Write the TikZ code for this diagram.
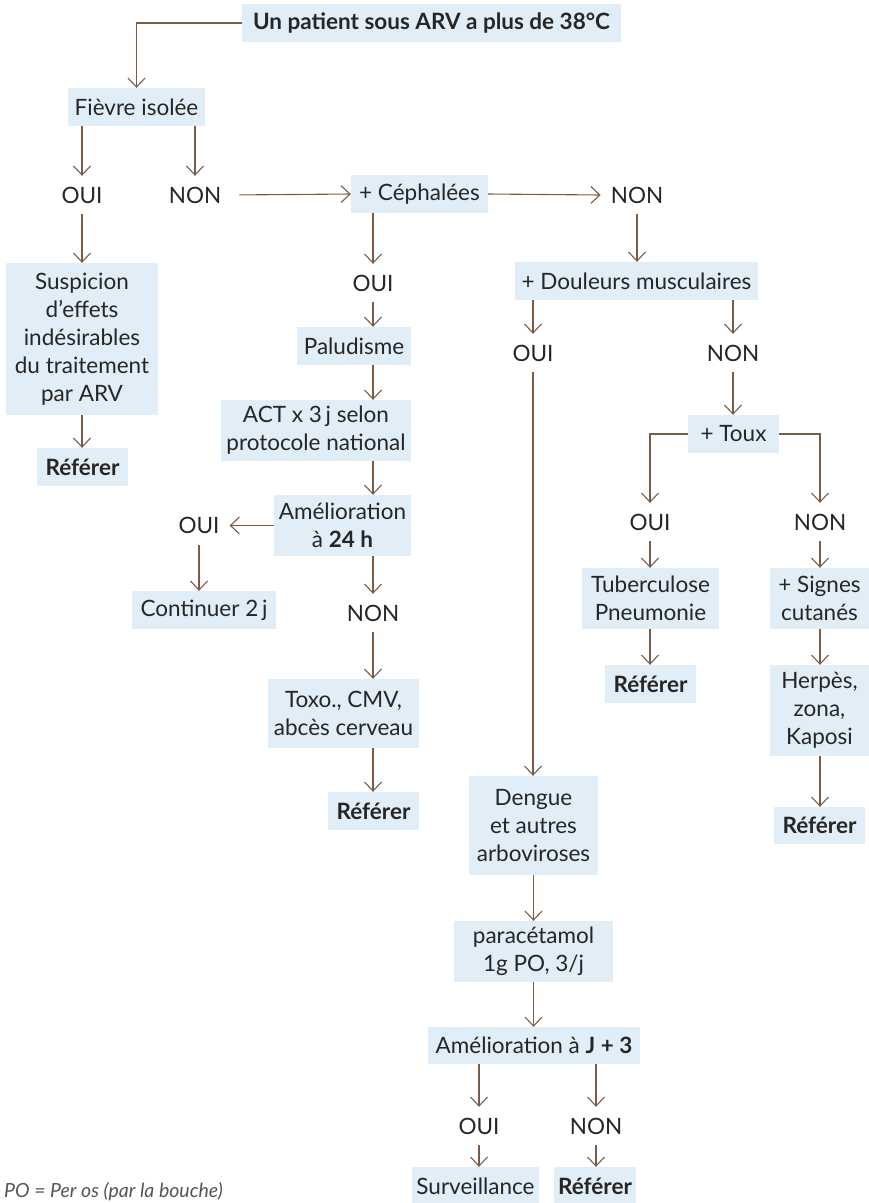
\documentclass[tikz,border=0pt]{standalone}
\usepackage{fontspec}
\setmainfont{Lato}
\usetikzlibrary{arrows.meta}
\definecolor{boxfill}{HTML}{E1EEF7}
\definecolor{arrowc}{HTML}{7D5C45}
\definecolor{txt}{HTML}{262626}
\definecolor{foottxt}{HTML}{555555}
\begin{document}
\begin{tikzpicture}[x=1pt,y=-1pt,
  every node/.style={font=\fontsize{22.5}{28}\selectfont, text=txt},
  bx/.style 2 args={fill=boxfill, inner sep=0pt, align=center, minimum width=#1, minimum height=#2},
  lab/.style={inner xsep=10pt, inner ysep=0pt, minimum height=38pt},
  arr/.style={draw=arrowc, line width=1.1pt, -{Straight Barb[length=9pt,width=17pt,line width=1.1pt]}}]
\useasboundingbox (0,0) rectangle (869,1203);

% boxes
\node[bx={379pt}{38pt}] (top) at (431.5,23) {\textbf{Un patient sous ARV a plus de 38°C}};
\node[bx={137pt}{38pt}] (fievre) at (136.5,107) {Fièvre isolée};
\node[bx={137pt}{38pt}] (ceph) at (419.5,194) {+ Céphalées};
\node[bx={152pt}{152pt}] (susp) at (82,339) {Suspicion\\d’effets\\indésirables\\du traitement\\par ARV};
\node[bx={91pt}{38pt}] (ref1) at (82.5,467) {\textbf{Référer}};
\node[bx={114pt}{38pt}] (palu) at (354,346) {Paludisme};
\node[bx={190pt}{61pt}] (act) at (316,430.5) {ACT x 3\,j selon\\protocole national};
\node[bx={137pt}{61pt}] (amel) at (342.5,525.5) {Amélioration\\à \textbf{24 h}};
\node[bx={144pt}{38pt}] (cont) at (204,610) {Continuer 2\,j};
\node[bx={151pt}{69pt}] (toxo) at (343.5,713.5) {Toxo., CMV,\\abcès cerveau};
\node[bx={91pt}{38pt}] (ref2) at (373.5,811) {\textbf{Référer}};
\node[bx={243pt}{38pt}] (doul) at (636.5,281) {+ Douleurs musculaires};
\node[bx={91pt}{38pt}] (toux) at (733.5,434) {+ Toux};
\node[bx={137pt}{61pt}] (tub) at (650.5,598.5) {Tuberculose\\Pneumonie};
\node[bx={91pt}{38pt}] (ref3) at (650.5,684) {\textbf{Référer}};
\node[bx={99pt}{61pt}] (sign) at (819.5,598.5) {+ Signes\\cutanés};
\node[bx={99pt}{91pt}] (herp) at (819.5,710.5) {Herpès,\\zona,\\Kaposi};
\node[bx={91pt}{37pt}] (ref4) at (819.5,825.5) {\textbf{Référer}};
\node[bx={129pt}{99pt}] (deng) at (533.5,825.5) {Dengue\\et autres\\arboviroses};
\node[bx={159pt}{61pt}] (para) at (533.5,951.5) {paracétamol\\1g PO, 3/j};
\node[bx={212pt}{37pt}] (amj) at (534,1045.5) {Amélioration à \textbf{J + 3}};
\node[bx={127pt}{38pt}] (surv) at (475.5,1186) {Surveillance};
\node[bx={82pt}{38pt}] (ref5) at (595,1186) {\textbf{Référer}};

% labels
\node[lab] (oui1) at (82,195) {OUI};
\node[lab] (non1) at (195,195) {NON};
\node[lab] (non2) at (637,195) {NON};
\node[lab] (oui2) at (373,283) {OUI};
\node[lab] (oui3) at (199,525.5) {OUI};
\node[lab] (non3) at (373,613) {NON};
\node[lab] (oui4) at (533,353) {OUI};
\node[lab] (non4) at (733,353) {NON};
\node[lab] (oui5) at (650,522) {OUI};
\node[lab] (non5) at (820,522) {NON};
\node[lab] (oui6) at (479,1126) {OUI};
\node[lab] (non6) at (596,1126) {NON};

\node[anchor=base west, inner sep=0pt, font=\fontsize{19.5}{22}\selectfont\itshape, text=foottxt] (foot) at (4,1197) {PO = Per os (par la bouche)};

% connectors
\draw[arr] (top.west) -| (fievre.north);
\draw[arr] (fievre.south -| oui1) -- (oui1);
\draw[arr] (fievre.south -| non1) -- (non1);
\draw[arr, shorten <=8pt] (non1.east) -- (ceph.west);
\draw[arr] (ceph.east) -- (non2.west);
\draw[arr] (oui1) -- (susp.north -| oui1);
\draw[arr] (susp.south) -- (susp.south |- ref1.north);

\draw[arr] (ceph.south -| oui2) -- (oui2);
\draw[arr] (oui2) -- (palu.north -| oui2);
\draw[arr] (palu.south -| oui2) -- (act.north -| oui2);
\draw[arr] (act.south -| oui2) -- (amel.north -| oui2);
\draw[arr] (amel.west) -- (oui3);
\draw[arr] (oui3) -- (cont.north -| oui3);
\draw[arr] (amel.south -| non3) -- (non3);
\draw[arr] (non3) -- (toxo.north -| non3);
\draw[arr] (toxo.south -| non3) -- (ref2.north -| non3);

\draw[arr] (non2) -- (doul.north -| non2);
\draw[arr] (doul.south -| oui4) -- (oui4);
\draw[arr] (oui4) -- (deng.north -| oui4);
\draw[arr] (doul.south -| non4) -- (non4);
\draw[arr] (non4) -- (toux.north -| non4);
\draw[arr] (toux.west) -| (oui5);
\draw[arr] (toux.east) -| (non5);
\draw[arr] (oui5) -- (tub.north -| oui5);
\draw[arr] (tub.south -| oui5) -- (ref3.north -| oui5);
\draw[arr] (non5) -- (sign.north -| non5);
\draw[arr] (sign.south -| non5) -- (herp.north -| non5);
\draw[arr] (herp.south -| non5) -- (ref4.north -| non5);

\draw[arr] (deng.south) -- (para.north);
\draw[arr] (para.south) -- (para.south |- amj.north);
\draw[arr] (amj.south -| oui6) -- (oui6);
\draw[arr] (oui6) -- (surv.north -| oui6);
\draw[arr] (amj.south -| non6) -- (non6);
\draw[arr] (non6) -- (ref5.north -| non6);
\end{tikzpicture}
\end{document}
